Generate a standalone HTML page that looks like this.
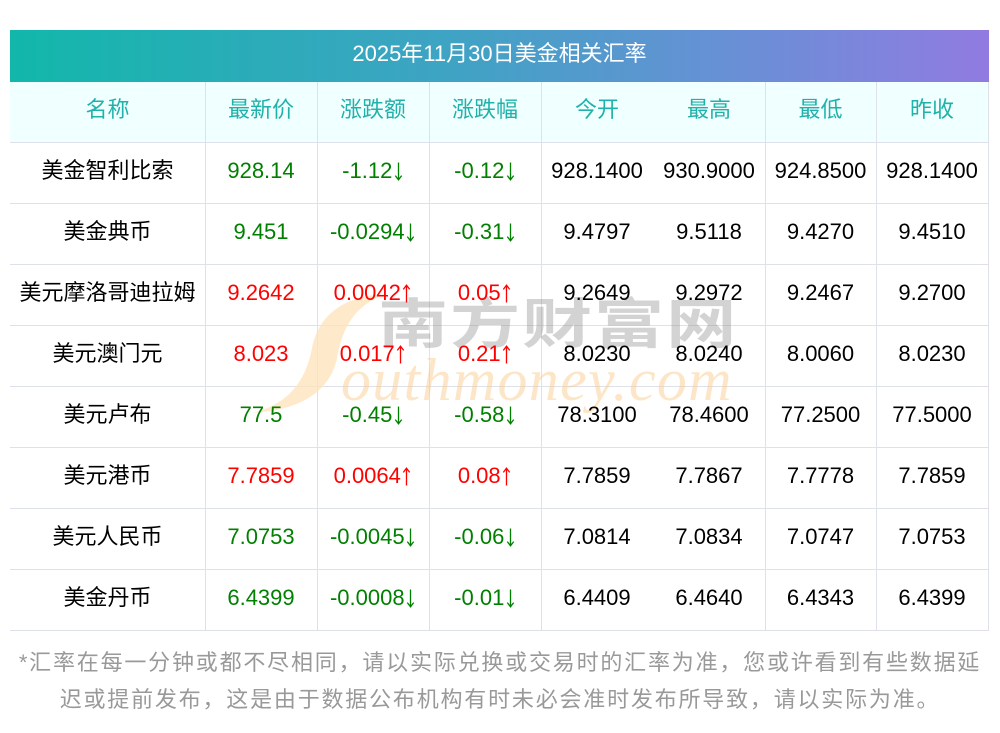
<!DOCTYPE html>
<html><head><meta charset="utf-8"><style>
*{margin:0;padding:0;box-sizing:border-box}
body{width:1000px;height:733px;background:#fff;position:relative;overflow:hidden;font-family:"Liberation Sans","Noto Sans CJK SC",sans-serif}
.a{position:absolute}
.title{left:10px;top:30px;width:979px;height:52px;background:linear-gradient(90deg,#12b7aa 0%,#3fa3c4 45%,#6a8fd6 75%,#917be0 100%);color:#fff;font-size:22px;line-height:47px;text-align:center}
.hbg{left:10px;top:82px;width:979px;height:60px;background:#f0ffff}
.h{left:10px;width:979px;height:1px;background:#dfe1ea}
.v{top:82px;width:1px;height:548px;background:#dfe1ea}
.c{position:absolute;text-align:center;font-size:22px;white-space:nowrap;line-height:58px}
.hd{color:#20b2aa;top:82px;height:56px;line-height:56px}
.g{color:#008000}.r{color:#ff0000}.k{color:#000}
.ar{display:inline-block;vertical-align:-3px;margin-left:0.5px}
.foot{left:0;top:644px;width:1000px;text-align:center;font-size:22px;line-height:37px;color:#999;letter-spacing:1.8px;font-family:"Liberation Sans","Noto Sans CJK SC",sans-serif}
</style></head><body>
<div class="a title">2025年11月30日美金相关汇率</div>
<div class="a hbg"></div>

<div class="a h" style="top:142px"></div>
<div class="a h" style="top:203px"></div>
<div class="a h" style="top:264px"></div>
<div class="a h" style="top:325px"></div>
<div class="a h" style="top:386px"></div>
<div class="a h" style="top:447px"></div>
<div class="a h" style="top:508px"></div>
<div class="a h" style="top:569px"></div>
<div class="a h" style="top:630px"></div>
<div class="a v" style="left:205px"></div>
<div class="a v" style="left:317px"></div>
<div class="a v" style="left:429px"></div>
<div class="a v" style="left:541px"></div>
<div class="a v" style="left:765px"></div>
<div class="a v" style="left:876px"></div>
<div class="a v" style="left:988px"></div>

<!-- watermark -->
<svg class="a" style="left:0;top:0" width="1000" height="733">
<path d="M386,294 C340,296 318,318 312,348 C305,385 285,405 252,413 C300,410 330,392 337,358 C343,325 356,305 386,294 Z" fill="#fde3b8" opacity="0.75"/>
</svg>
<div class="a" style="left:378px;top:280px;font-size:54px;line-height:80px;letter-spacing:1.4px;color:rgba(140,140,140,0.38);font-weight:bold;font-family:'Noto Sans CJK SC',sans-serif;white-space:nowrap;transform:scaleX(1.3);transform-origin:0 0">南方财富网</div>
<div class="a" style="left:341px;top:340px;font-size:60px;line-height:80px;letter-spacing:1.3px;font-style:italic;font-family:'Liberation Serif',serif;color:rgba(250,200,130,0.45);white-space:nowrap">outhmoney.com</div>

<!-- header -->
<div class="c hd" style="left:10px;width:195px">名称</div>
<div class="c hd" style="left:205px;width:112px">最新价</div>
<div class="c hd" style="left:317px;width:112px">涨跌额</div>
<div class="c hd" style="left:429px;width:112px">涨跌幅</div>
<div class="c hd" style="left:541px;width:112px">今开</div>
<div class="c hd" style="left:653px;width:112px">最高</div>
<div class="c hd" style="left:765px;width:111px">最低</div>
<div class="c hd" style="left:876px;width:112px">昨收</div>

<!-- rows -->
<div style="position:absolute;left:0;top:142px">
<div class="c k" style="left:10px;width:195px">美金智利比索</div>
<div class="c g" style="left:205px;width:112px">928.14</div>
<div class="c g" style="left:317px;width:112px">-1.12<svg class="ar" width="11" height="19" viewBox="0 0 11 19"><path d="M5.5 0.5V17.5M2.3 13.6L5.5 17.8L8.7 13.6" stroke="currentColor" stroke-width="1.3" fill="none"/></svg></div>
<div class="c g" style="left:429px;width:112px">-0.12<svg class="ar" width="11" height="19" viewBox="0 0 11 19"><path d="M5.5 0.5V17.5M2.3 13.6L5.5 17.8L8.7 13.6" stroke="currentColor" stroke-width="1.3" fill="none"/></svg></div>
<div class="c k" style="left:541px;width:112px">928.1400</div>
<div class="c k" style="left:653px;width:112px">930.9000</div>
<div class="c k" style="left:765px;width:111px">924.8500</div>
<div class="c k" style="left:876px;width:112px">928.1400</div>
</div>
<div style="position:absolute;left:0;top:203px">
<div class="c k" style="left:10px;width:195px">美金典币</div>
<div class="c g" style="left:205px;width:112px">9.451</div>
<div class="c g" style="left:317px;width:112px">-0.0294<svg class="ar" width="11" height="19" viewBox="0 0 11 19"><path d="M5.5 0.5V17.5M2.3 13.6L5.5 17.8L8.7 13.6" stroke="currentColor" stroke-width="1.3" fill="none"/></svg></div>
<div class="c g" style="left:429px;width:112px">-0.31<svg class="ar" width="11" height="19" viewBox="0 0 11 19"><path d="M5.5 0.5V17.5M2.3 13.6L5.5 17.8L8.7 13.6" stroke="currentColor" stroke-width="1.3" fill="none"/></svg></div>
<div class="c k" style="left:541px;width:112px">9.4797</div>
<div class="c k" style="left:653px;width:112px">9.5118</div>
<div class="c k" style="left:765px;width:111px">9.4270</div>
<div class="c k" style="left:876px;width:112px">9.4510</div>
</div>
<div style="position:absolute;left:0;top:264px">
<div class="c k" style="left:10px;width:195px">美元摩洛哥迪拉姆</div>
<div class="c r" style="left:205px;width:112px">9.2642</div>
<div class="c r" style="left:317px;width:112px">0.0042<svg class="ar" width="11" height="19" viewBox="0 0 11 19"><path d="M5.5 18.5V1.5M2.3 5.4L5.5 1.2L8.7 5.4" stroke="currentColor" stroke-width="1.3" fill="none"/></svg></div>
<div class="c r" style="left:429px;width:112px">0.05<svg class="ar" width="11" height="19" viewBox="0 0 11 19"><path d="M5.5 18.5V1.5M2.3 5.4L5.5 1.2L8.7 5.4" stroke="currentColor" stroke-width="1.3" fill="none"/></svg></div>
<div class="c k" style="left:541px;width:112px">9.2649</div>
<div class="c k" style="left:653px;width:112px">9.2972</div>
<div class="c k" style="left:765px;width:111px">9.2467</div>
<div class="c k" style="left:876px;width:112px">9.2700</div>
</div>
<div style="position:absolute;left:0;top:325px">
<div class="c k" style="left:10px;width:195px">美元澳门元</div>
<div class="c r" style="left:205px;width:112px">8.023</div>
<div class="c r" style="left:317px;width:112px">0.017<svg class="ar" width="11" height="19" viewBox="0 0 11 19"><path d="M5.5 18.5V1.5M2.3 5.4L5.5 1.2L8.7 5.4" stroke="currentColor" stroke-width="1.3" fill="none"/></svg></div>
<div class="c r" style="left:429px;width:112px">0.21<svg class="ar" width="11" height="19" viewBox="0 0 11 19"><path d="M5.5 18.5V1.5M2.3 5.4L5.5 1.2L8.7 5.4" stroke="currentColor" stroke-width="1.3" fill="none"/></svg></div>
<div class="c k" style="left:541px;width:112px">8.0230</div>
<div class="c k" style="left:653px;width:112px">8.0240</div>
<div class="c k" style="left:765px;width:111px">8.0060</div>
<div class="c k" style="left:876px;width:112px">8.0230</div>
</div>
<div style="position:absolute;left:0;top:386px">
<div class="c k" style="left:10px;width:195px">美元卢布</div>
<div class="c g" style="left:205px;width:112px">77.5</div>
<div class="c g" style="left:317px;width:112px">-0.45<svg class="ar" width="11" height="19" viewBox="0 0 11 19"><path d="M5.5 0.5V17.5M2.3 13.6L5.5 17.8L8.7 13.6" stroke="currentColor" stroke-width="1.3" fill="none"/></svg></div>
<div class="c g" style="left:429px;width:112px">-0.58<svg class="ar" width="11" height="19" viewBox="0 0 11 19"><path d="M5.5 0.5V17.5M2.3 13.6L5.5 17.8L8.7 13.6" stroke="currentColor" stroke-width="1.3" fill="none"/></svg></div>
<div class="c k" style="left:541px;width:112px">78.3100</div>
<div class="c k" style="left:653px;width:112px">78.4600</div>
<div class="c k" style="left:765px;width:111px">77.2500</div>
<div class="c k" style="left:876px;width:112px">77.5000</div>
</div>
<div style="position:absolute;left:0;top:447px">
<div class="c k" style="left:10px;width:195px">美元港币</div>
<div class="c r" style="left:205px;width:112px">7.7859</div>
<div class="c r" style="left:317px;width:112px">0.0064<svg class="ar" width="11" height="19" viewBox="0 0 11 19"><path d="M5.5 18.5V1.5M2.3 5.4L5.5 1.2L8.7 5.4" stroke="currentColor" stroke-width="1.3" fill="none"/></svg></div>
<div class="c r" style="left:429px;width:112px">0.08<svg class="ar" width="11" height="19" viewBox="0 0 11 19"><path d="M5.5 18.5V1.5M2.3 5.4L5.5 1.2L8.7 5.4" stroke="currentColor" stroke-width="1.3" fill="none"/></svg></div>
<div class="c k" style="left:541px;width:112px">7.7859</div>
<div class="c k" style="left:653px;width:112px">7.7867</div>
<div class="c k" style="left:765px;width:111px">7.7778</div>
<div class="c k" style="left:876px;width:112px">7.7859</div>
</div>
<div style="position:absolute;left:0;top:508px">
<div class="c k" style="left:10px;width:195px">美元人民币</div>
<div class="c g" style="left:205px;width:112px">7.0753</div>
<div class="c g" style="left:317px;width:112px">-0.0045<svg class="ar" width="11" height="19" viewBox="0 0 11 19"><path d="M5.5 0.5V17.5M2.3 13.6L5.5 17.8L8.7 13.6" stroke="currentColor" stroke-width="1.3" fill="none"/></svg></div>
<div class="c g" style="left:429px;width:112px">-0.06<svg class="ar" width="11" height="19" viewBox="0 0 11 19"><path d="M5.5 0.5V17.5M2.3 13.6L5.5 17.8L8.7 13.6" stroke="currentColor" stroke-width="1.3" fill="none"/></svg></div>
<div class="c k" style="left:541px;width:112px">7.0814</div>
<div class="c k" style="left:653px;width:112px">7.0834</div>
<div class="c k" style="left:765px;width:111px">7.0747</div>
<div class="c k" style="left:876px;width:112px">7.0753</div>
</div>
<div style="position:absolute;left:0;top:569px">
<div class="c k" style="left:10px;width:195px">美金丹币</div>
<div class="c g" style="left:205px;width:112px">6.4399</div>
<div class="c g" style="left:317px;width:112px">-0.0008<svg class="ar" width="11" height="19" viewBox="0 0 11 19"><path d="M5.5 0.5V17.5M2.3 13.6L5.5 17.8L8.7 13.6" stroke="currentColor" stroke-width="1.3" fill="none"/></svg></div>
<div class="c g" style="left:429px;width:112px">-0.01<svg class="ar" width="11" height="19" viewBox="0 0 11 19"><path d="M5.5 0.5V17.5M2.3 13.6L5.5 17.8L8.7 13.6" stroke="currentColor" stroke-width="1.3" fill="none"/></svg></div>
<div class="c k" style="left:541px;width:112px">6.4409</div>
<div class="c k" style="left:653px;width:112px">6.4640</div>
<div class="c k" style="left:765px;width:111px">6.4343</div>
<div class="c k" style="left:876px;width:112px">6.4399</div>
</div>

<div class="a foot">*汇率在每一分钟或都不尽相同，请以实际兑换或交易时的汇率为准，您或许看到有些数据延<br>迟或提前发布，这是由于数据公布机构有时未必会准时发布所导致，请以实际为准。</div>
</body></html>
